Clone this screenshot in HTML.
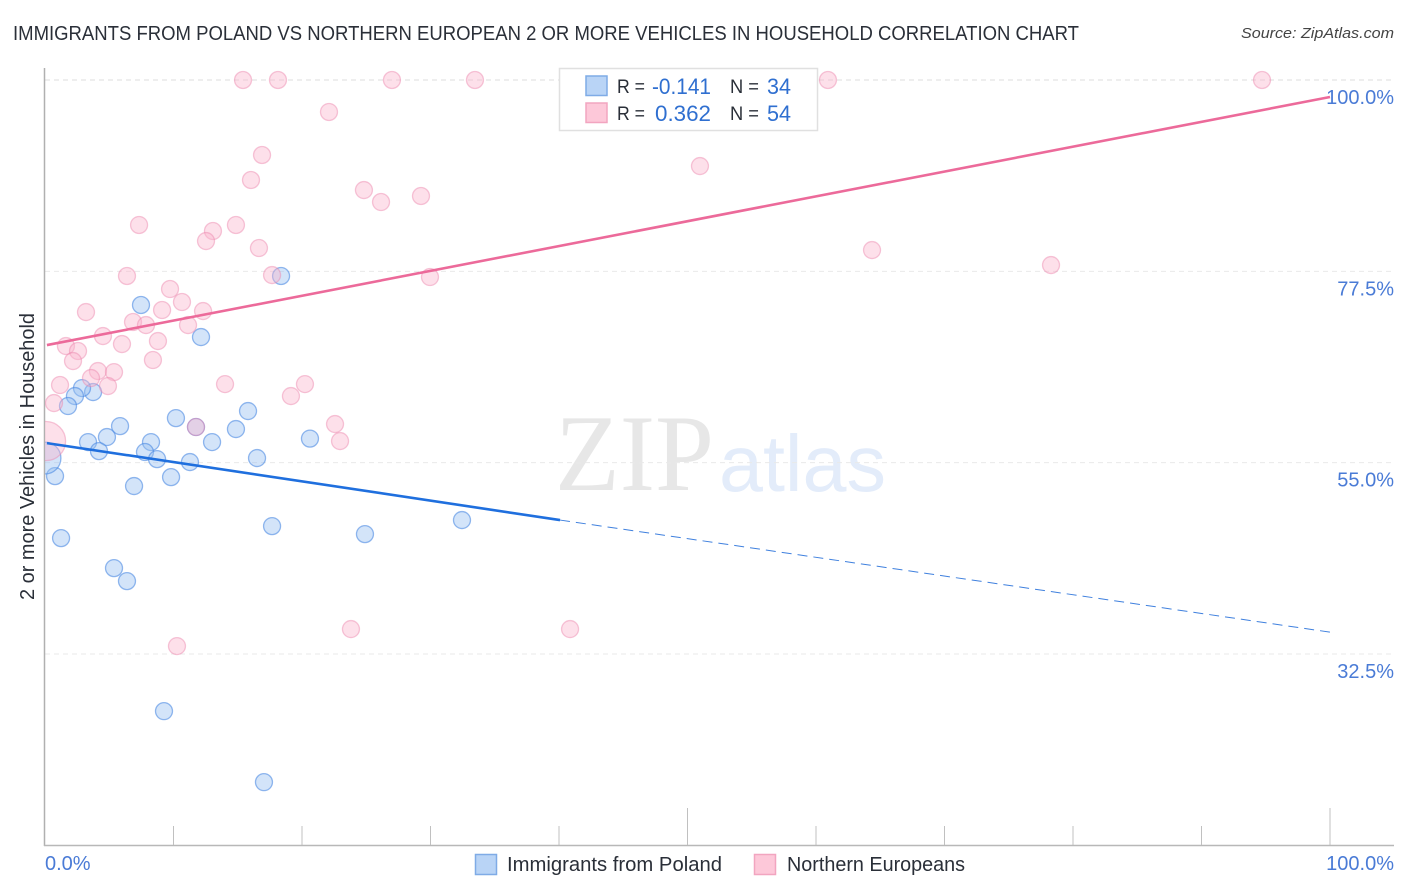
<!DOCTYPE html>
<html lang="en">
<head>
<meta charset="utf-8">
<title>Immigrants from Poland vs Northern European 2 or more Vehicles in Household Correlation Chart</title>
<style>
html,body{margin:0;padding:0;background:#fff;width:1406px;height:892px;overflow:hidden}
svg{display:block;font-family:"Liberation Sans",sans-serif}
</style>
</head>
<body>
<svg id="chart" width="1406" height="892" viewBox="0 0 1406 892" xmlns="http://www.w3.org/2000/svg">
  <defs>
    <clipPath id="plot-clip"><rect x="45" y="60" width="1349" height="786"/></clipPath>
  </defs>
  <rect x="0" y="0" width="1406" height="892" fill="#fff"/>
  <text x="13" y="40" font-size="20" fill="#2a2f38" textLength="1066" lengthAdjust="spacingAndGlyphs">IMMIGRANTS FROM POLAND VS NORTHERN EUROPEAN 2 OR MORE VEHICLES IN HOUSEHOLD CORRELATION CHART</text>
  <text x="1241" y="38" font-size="15" font-style="italic" fill="#444" textLength="153" lengthAdjust="spacingAndGlyphs">Source: ZipAtlas.com</text>
  <g>
    <text x="555" y="490" font-family="'Liberation Serif',serif" font-size="109" fill="#e7e7e7" textLength="159" lengthAdjust="spacingAndGlyphs">ZIP</text>
    <text x="719" y="491" font-size="80" fill="#e3ecfa" textLength="167" lengthAdjust="spacingAndGlyphs">atlas</text>
  </g>
  <g id="grid"></g>
  <g id="axes"></g>
  <g id="blue-points" clip-path="url(#plot-clip)"></g>
  <g id="pink-points" clip-path="url(#plot-clip)"></g>
  <g id="trends"></g>
  <text transform="translate(34,456.5) rotate(-90)" text-anchor="middle" font-size="20" fill="#2a2f38" textLength="287" lengthAdjust="spacingAndGlyphs">2 or more Vehicles in Household</text>
  <g id="tick-labels"></g>
  <g>
    <rect x="559.5" y="68.5" width="258" height="62" fill="#fff" stroke="#e0e0e0" stroke-width="1.5"/>
    <rect x="586" y="76" width="21" height="19.5" fill="#b9d4f6" stroke="#7fabe6" stroke-width="1.5"/>
    <rect x="586" y="103" width="21" height="19.5" fill="#fdc8d9" stroke="#f2a5c0" stroke-width="1.5"/>
    <text x="617" y="93" font-size="19" fill="#2a2f38" textLength="28" lengthAdjust="spacingAndGlyphs">R =</text>
    <text x="652" y="94" font-size="22" fill="#2f6fd0" textLength="59" lengthAdjust="spacingAndGlyphs">-0.141</text>
    <text x="730" y="93" font-size="19" fill="#2a2f38" textLength="29" lengthAdjust="spacingAndGlyphs">N =</text>
    <text x="767" y="94" font-size="22" fill="#2f6fd0" textLength="24" lengthAdjust="spacingAndGlyphs">34</text>
    <text x="617" y="120" font-size="19" fill="#2a2f38" textLength="28" lengthAdjust="spacingAndGlyphs">R =</text>
    <text x="655" y="121" font-size="22" fill="#2f6fd0" textLength="56" lengthAdjust="spacingAndGlyphs">0.362</text>
    <text x="730" y="120" font-size="19" fill="#2a2f38" textLength="29" lengthAdjust="spacingAndGlyphs">N =</text>
    <text x="767" y="121" font-size="22" fill="#2f6fd0" textLength="24" lengthAdjust="spacingAndGlyphs">54</text>
  </g>
  <g>
    <rect x="475.5" y="854.5" width="21" height="20" fill="#b9d4f6" stroke="#7fabe6" stroke-width="1.5"/>
    <text x="507" y="871" font-size="20" fill="#2a2f38" textLength="215" lengthAdjust="spacingAndGlyphs">Immigrants from Poland</text>
    <rect x="754.5" y="854.5" width="21" height="20" fill="#fdc8d9" stroke="#f2a5c0" stroke-width="1.5"/>
    <text x="787" y="871" font-size="20" fill="#2a2f38" textLength="178" lengthAdjust="spacingAndGlyphs">Northern Europeans</text>
  </g>
</svg>
<script>
const xTickValues = [0,10,20,30,40,50,60,70,80,90,100];
const xMajorTicks = [50,100];
const xEdgeLabels = ["0.0%","100.0%"];
const yTickValues = [100,77.5,55,32.5];
const yTickLabels = ["100.0%","77.5%","55.0%","32.5%"];

const blueX = [7.47,18.37,12.14,3.74,2.88,2.33,1.79,15.80,10.19,5.84,11.75,4.82,14.86,3.35,13.00,8.25,4.20,7.78,8.72,11.28,16.50,20.62,9.81,6.93,0.78,0,1.25,17.67,5.37,6.38,24.90,32.45,9.26,17.04];
const blueY = [73.54,76.95,69.77,63.30,63.77,62.83,61.66,61.07,60.24,59.30,59.19,58.01,58.95,57.42,57.42,57.42,56.36,56.25,55.42,55.07,55.54,57.83,53.30,52.25,53.42,55.54,46.13,47.54,42.60,41.07,46.60,48.25,25.78,17.43];
const blueWeightOverrides = {25:3.5};

const pinkX = [15.41,18.13,27.00,33.46,60.93,94.71,22.10,16.89,16.03,50.97,24.82,26.15,29.26,7.32,14.86,13.07,12.53,16.65,64.36,78.29,6.38,17.67,29.96,9.73,10.66,3.19,9.11,12.30,6.85,7.86,11.13,4.51,8.79,5.99,1.63,2.57,2.18,8.40,4.12,5.37,3.58,4.90,1.17,14.01,20.23,19.14,0.70,11.75,22.57,22.96,0.08,23.81,40.86,10.27];
const pinkY = [100,100,100,100,100,100,96.24,91.18,88.24,89.88,87.06,85.65,86.36,82.95,82.95,82.24,81.06,80.24,80.00,78.24,76.95,77.06,76.83,75.42,73.89,72.71,72.95,72.83,71.54,71.18,71.18,69.89,69.30,68.95,68.71,68.13,66.95,67.07,65.77,65.65,64.95,64.01,64.13,64.24,64.24,62.83,62.01,59.19,59.54,57.54,57.54,35.43,35.43,33.43];
const pinkWeightOverrides = {50:5.3};

const pinkTrendX = [0.15,100];
const pinkTrendY = [68.83,98.0];
const blueTrendX = [0.15,40.08];
const blueTrendY = [57.30,48.25];
const blueForecastX = [40.08,100];
const blueForecastY = [48.25,35.07];

const NS = "http://www.w3.org/2000/svg";
function xScale(v){ return 45 + (v/100)*1285; }
function yScale(v){ return 80 + ((100-v)/67.5)*574; }
function radius(w){ return 8.5*Math.sqrt(w); }
function make(tag, parentId, attrs, text){
  const el = document.createElementNS(NS, tag);
  for (const k in attrs) el.setAttribute(k, attrs[k]);
  if (text !== undefined) el.textContent = text;
  document.getElementById(parentId).appendChild(el);
  return el;
}

yTickValues.forEach(function(v, i){
  const line = make("line","grid",{x1:45,x2:1394,y1:yScale(v),y2:yScale(v),stroke:i===0?"#dcdcdc":"#e9e9e9","stroke-width":1,"stroke-dasharray":"5 4"});
  
  
  const label = make("text","tick-labels",{x:1394,y:yScale(v)+24,"text-anchor":"end","font-size":20,fill:"#4a7bd6"},yTickLabels[i]);
  
  
});

const yAxis = make("line","axes",{x1:44.5,x2:44.5,y1:68,y2:846,stroke:"#b0b0b0","stroke-width":1.5});


const xAxis = make("line","axes",{x1:44,x2:1394,y1:845.5,y2:845.5,stroke:"#b8b8b8","stroke-width":1.5});



xTickValues.forEach(function(v){
  if (v === 0) return;
  const top = xMajorTicks.indexOf(v) >= 0 ? 808 : 826;
  const tick = make("line","axes",{x1:xScale(v),x2:xScale(v),y1:top,y2:845,stroke:"#c0c0c0","stroke-width":1});
  
  
});

const x0Label = make("text","tick-labels",{x:45,y:870,"font-size":20,fill:"#4a7bd6"},xEdgeLabels[0]);


const x100Label = make("text","tick-labels",{x:1394,y:870,"text-anchor":"end","font-size":20,fill:"#4a7bd6"},xEdgeLabels[1]);



blueX.forEach(function(v, i){
  const w = blueWeightOverrides[i] || 1;
  const c = make("circle","blue-points",{cx:xScale(v),cy:yScale(blueY[i]),r:radius(w),fill:"rgba(150,190,240,0.42)",stroke:"rgba(70,135,225,0.58)","stroke-width":1.3});
  
  
});
pinkX.forEach(function(v, i){
  const w = pinkWeightOverrides[i] || 1;
  const c = make("circle","pink-points",{cx:xScale(v),cy:yScale(pinkY[i]),r:radius(w),fill:"rgba(250,180,205,0.42)",stroke:"rgba(235,130,170,0.45)","stroke-width":1.3});
  
  
});

const pinkTrend = make("line","trends",{x1:xScale(pinkTrendX[0]),y1:yScale(pinkTrendY[0]),x2:xScale(pinkTrendX[1]),y2:yScale(pinkTrendY[1]),stroke:"#ec6a9a","stroke-width":2.6});


const blueTrend = make("line","trends",{x1:xScale(blueTrendX[0]),y1:yScale(blueTrendY[0]),x2:xScale(blueTrendX[1]),y2:yScale(blueTrendY[1]),stroke:"#1f6fde","stroke-width":2.6});


const blueForecast = make("line","trends",{x1:xScale(blueForecastX[0]),y1:yScale(blueForecastY[0]),x2:xScale(blueForecastX[1]),y2:yScale(blueForecastY[1]),stroke:"#3f80de","stroke-width":1,"stroke-dasharray":"10 6"});


</script>
</body>
</html>
